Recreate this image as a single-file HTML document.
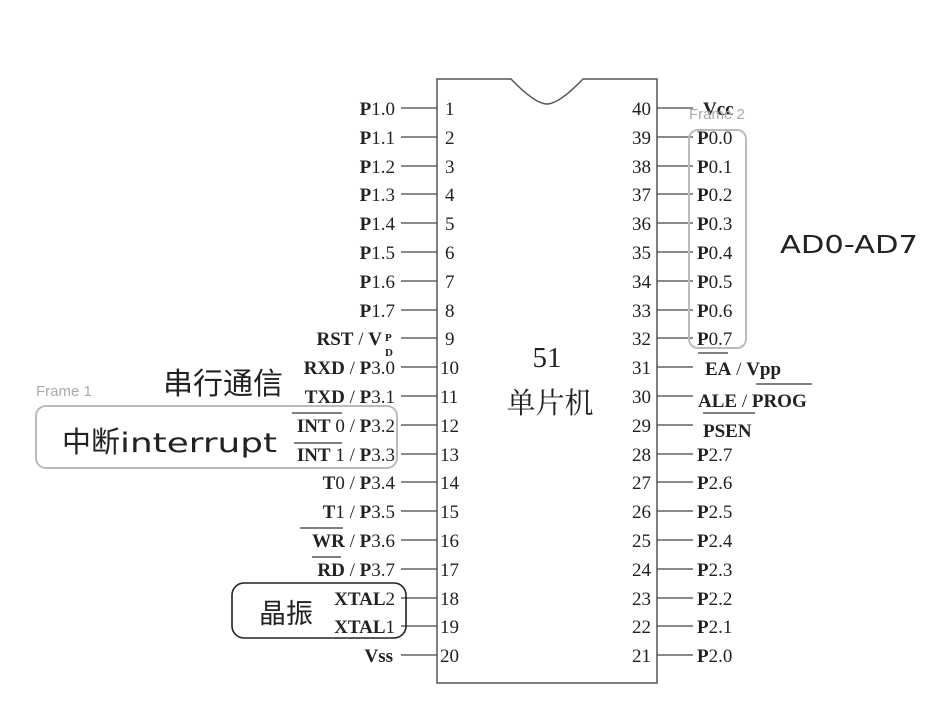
<!DOCTYPE html>
<html><head><meta charset="utf-8"><style>
html,body{margin:0;padding:0;background:#fff;}
svg{display:block;}
.s{font-family:"Liberation Serif","Noto Serif CJK SC",serif;font-size:19px;fill:#222;}
.b{font-weight:bold;}
.n{font-family:"Liberation Serif",serif;font-size:19px;fill:#222;}
.cj{font-family:"Liberation Sans","Noto Sans CJK SC",sans-serif;fill:#222;}
.fr{font-family:"Liberation Sans","Noto Sans CJK SC",sans-serif;font-size:15px;fill:#aaa;}
</style></head><body>
<svg width="949" height="723" viewBox="0 0 949 723" xmlns="http://www.w3.org/2000/svg">
<path d="M437,79 L511,79 Q535,104 547,104 Q559,104 583,79 L657,79 L657,683 L437,683 Z" fill="none" stroke="#555" stroke-width="1.5"/>
<g stroke="#444" stroke-width="1.3">
<line x1="401" y1="108" x2="437" y2="108"/><line x1="401" y1="137" x2="437" y2="137"/><line x1="401" y1="166" x2="437" y2="166"/><line x1="401" y1="194" x2="437" y2="194"/><line x1="401" y1="223" x2="437" y2="223"/><line x1="401" y1="252" x2="437" y2="252"/><line x1="401" y1="281" x2="437" y2="281"/><line x1="401" y1="310" x2="437" y2="310"/><line x1="401" y1="338" x2="437" y2="338"/><line x1="401" y1="367" x2="437" y2="367"/><line x1="401" y1="396" x2="437" y2="396"/><line x1="401" y1="425" x2="437" y2="425"/><line x1="401" y1="454" x2="437" y2="454"/><line x1="401" y1="482" x2="437" y2="482"/><line x1="401" y1="511" x2="437" y2="511"/><line x1="401" y1="540" x2="437" y2="540"/><line x1="401" y1="569" x2="437" y2="569"/><line x1="401" y1="598" x2="437" y2="598"/><line x1="401" y1="626" x2="437" y2="626"/><line x1="401" y1="655" x2="437" y2="655"/>
<line x1="657" y1="108" x2="693" y2="108"/><line x1="657" y1="137" x2="693" y2="137"/><line x1="657" y1="166" x2="693" y2="166"/><line x1="657" y1="194" x2="693" y2="194"/><line x1="657" y1="223" x2="693" y2="223"/><line x1="657" y1="252" x2="693" y2="252"/><line x1="657" y1="281" x2="693" y2="281"/><line x1="657" y1="310" x2="693" y2="310"/><line x1="657" y1="338" x2="693" y2="338"/><line x1="657" y1="367" x2="693" y2="367"/><line x1="657" y1="396" x2="693" y2="396"/><line x1="657" y1="425" x2="693" y2="425"/><line x1="657" y1="454" x2="693" y2="454"/><line x1="657" y1="482" x2="693" y2="482"/><line x1="657" y1="511" x2="693" y2="511"/><line x1="657" y1="540" x2="693" y2="540"/><line x1="657" y1="569" x2="693" y2="569"/><line x1="657" y1="598" x2="693" y2="598"/><line x1="657" y1="626" x2="693" y2="626"/><line x1="657" y1="655" x2="693" y2="655"/>
</g>
<g class="n">
<text x="445" y="115">1</text><text x="445" y="144">2</text><text x="445" y="173">3</text><text x="445" y="201">4</text><text x="445" y="230">5</text><text x="445" y="259">6</text><text x="445" y="288">7</text><text x="445" y="317">8</text><text x="445" y="345">9</text><text x="440" y="374">10</text><text x="440" y="403">11</text><text x="440" y="432">12</text><text x="440" y="461">13</text><text x="440" y="489">14</text><text x="440" y="518">15</text><text x="440" y="547">16</text><text x="440" y="576">17</text><text x="440" y="605">18</text><text x="440" y="633">19</text><text x="440" y="662">20</text>
</g>
<g class="n" text-anchor="end">
<text x="651" y="115">40</text><text x="651" y="144">39</text><text x="651" y="173">38</text><text x="651" y="201">37</text><text x="651" y="230">36</text><text x="651" y="259">35</text><text x="651" y="288">34</text><text x="651" y="317">33</text><text x="651" y="345">32</text><text x="651" y="374">31</text><text x="651" y="403">30</text><text x="651" y="432">29</text><text x="651" y="461">28</text><text x="651" y="489">27</text><text x="651" y="518">26</text><text x="651" y="547">25</text><text x="651" y="576">24</text><text x="651" y="605">23</text><text x="651" y="633">22</text><text x="651" y="662">21</text>
</g>
<g class="s" text-anchor="end">
<text x="395" y="115"><tspan class="b">P</tspan>1.0</text>
<text x="395" y="144"><tspan class="b">P</tspan>1.1</text>
<text x="395" y="173"><tspan class="b">P</tspan>1.2</text>
<text x="395" y="201"><tspan class="b">P</tspan>1.3</text>
<text x="395" y="230"><tspan class="b">P</tspan>1.4</text>
<text x="395" y="259"><tspan class="b">P</tspan>1.5</text>
<text x="395" y="288"><tspan class="b">P</tspan>1.6</text>
<text x="395" y="317"><tspan class="b">P</tspan>1.7</text>
<text x="382" y="345"><tspan class="b">RST</tspan> / <tspan class="b">V</tspan></text>
<text x="395" y="374"><tspan class="b">RXD</tspan>  / <tspan class="b">P</tspan>3.0</text>
<text x="395" y="403"><tspan class="b">TXD</tspan>  / <tspan class="b">P</tspan>3.1</text>
<text x="395" y="432"><tspan class="b">INT</tspan> 0 / <tspan class="b">P</tspan>3.2</text>
<text x="395" y="461"><tspan class="b">INT</tspan> 1 / <tspan class="b">P</tspan>3.3</text>
<text x="395" y="489"><tspan class="b">T</tspan>0 / <tspan class="b">P</tspan>3.4</text>
<text x="395" y="518"><tspan class="b">T</tspan>1 / <tspan class="b">P</tspan>3.5</text>
<text x="395" y="547"><tspan class="b">WR</tspan>  / <tspan class="b">P</tspan>3.6</text>
<text x="395" y="576"><tspan class="b">RD</tspan>  / <tspan class="b">P</tspan>3.7</text>
<text x="395" y="605"><tspan class="b">XTAL</tspan>2</text>
<text x="395" y="633"><tspan class="b">XTAL</tspan>1</text>
<text x="393" y="662" class="b">Vss</text>
</g>
<text x="385" y="341" class="s b" style="font-size:11px">P</text>
<text x="385" y="356" class="s b" style="font-size:11px">D</text>
<g stroke="#333" stroke-width="1.3">
<line x1="292" y1="413" x2="342" y2="413"/><line x1="294" y1="443" x2="342" y2="443"/>
<line x1="300" y1="528" x2="343" y2="528"/><line x1="312" y1="557" x2="341" y2="557"/>
<line x1="698" y1="353" x2="728" y2="353"/><line x1="756" y1="384" x2="812" y2="384"/><line x1="703" y1="413" x2="755" y2="413"/>
</g>
<g class="s">
<text x="703" y="115" class="b">Vcc</text>
<text x="697" y="144"><tspan class="b">P</tspan>0.0</text>
<text x="697" y="173"><tspan class="b">P</tspan>0.1</text>
<text x="697" y="201"><tspan class="b">P</tspan>0.2</text>
<text x="697" y="230"><tspan class="b">P</tspan>0.3</text>
<text x="697" y="259"><tspan class="b">P</tspan>0.4</text>
<text x="697" y="288"><tspan class="b">P</tspan>0.5</text>
<text x="697" y="317"><tspan class="b">P</tspan>0.6</text>
<text x="697" y="345"><tspan class="b">P</tspan>0.7</text>
<text x="705" y="375"><tspan class="b">EA</tspan> / <tspan class="b">Vpp</tspan></text>
<text x="698" y="407"><tspan class="b">ALE</tspan> / <tspan class="b">PROG</tspan></text>
<text x="703" y="437" class="b">PSEN</text>
<text x="697" y="461"><tspan class="b">P</tspan>2.7</text>
<text x="697" y="489"><tspan class="b">P</tspan>2.6</text>
<text x="697" y="518"><tspan class="b">P</tspan>2.5</text>
<text x="697" y="547"><tspan class="b">P</tspan>2.4</text>
<text x="697" y="576"><tspan class="b">P</tspan>2.3</text>
<text x="697" y="605"><tspan class="b">P</tspan>2.2</text>
<text x="697" y="633"><tspan class="b">P</tspan>2.1</text>
<text x="697" y="662"><tspan class="b">P</tspan>2.0</text>
</g>
<text x="547" y="367" text-anchor="middle" class="s" style="font-size:29px">51</text>
<text x="550" y="413" text-anchor="middle" class="cj" style="font-family:'Noto Serif CJK SC',serif;font-size:29px">单片机</text>
<rect x="689" y="130" width="57" height="218" rx="9" fill="none" stroke="#bbb" stroke-width="2"/>
<text x="689" y="119" class="fr">Frame 2</text>
<rect x="36" y="406" width="361" height="62" rx="10" fill="none" stroke="#bbb" stroke-width="2"/>
<text x="36" y="396" class="fr">Frame 1</text>
<rect x="232" y="583" width="174" height="55" rx="12" fill="none" stroke="#222" stroke-width="1.6"/>
<text x="163" y="394" class="cj" style="font-size:30px">串行通信</text>
<text x="62" y="452" class="cj" style="font-size:29px">中断<tspan style="font-family:'DejaVu Sans',sans-serif;font-size:27px" textLength="157" lengthAdjust="spacingAndGlyphs">interrupt</tspan></text>
<text x="259" y="623" class="cj" style="font-size:27px">晶振</text>
<text x="780" y="253" class="cj" style="font-family:'DejaVu Sans',sans-serif;font-size:25px" textLength="138" lengthAdjust="spacingAndGlyphs">AD0-AD7</text>
</svg>
</body></html>
